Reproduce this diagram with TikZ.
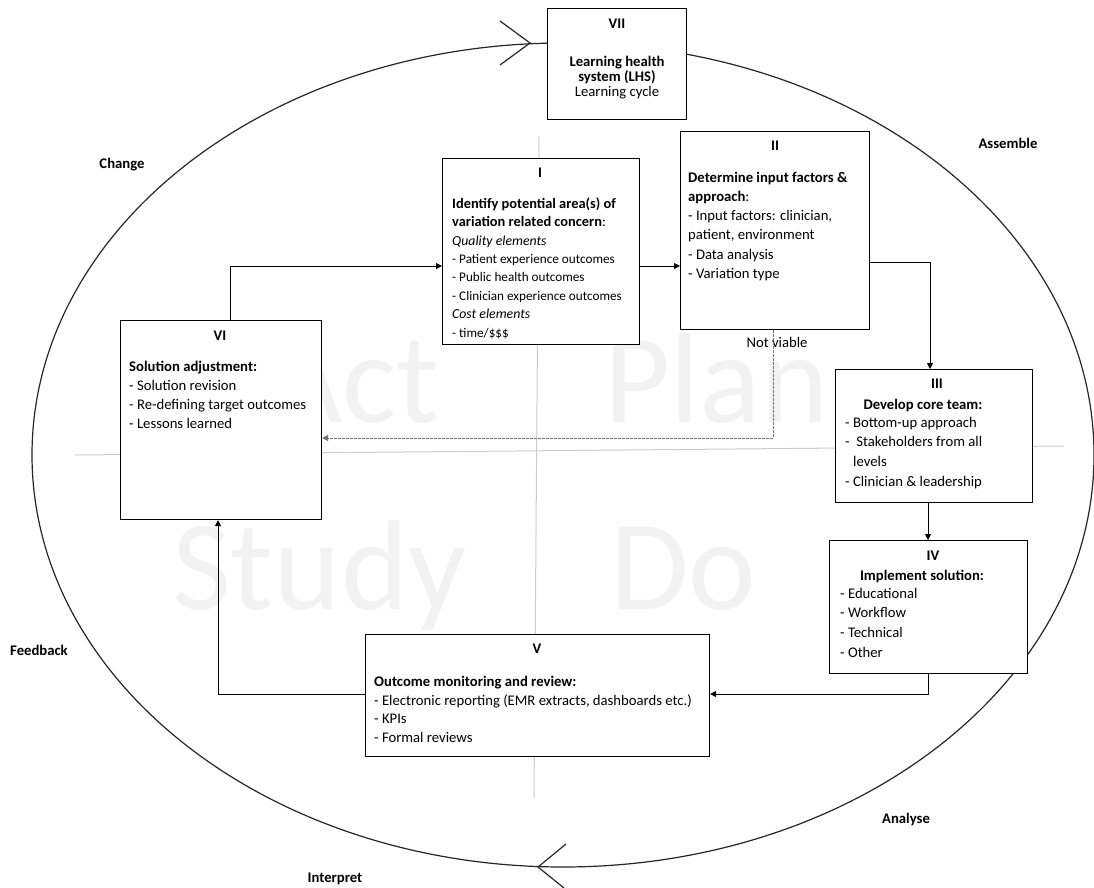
\documentclass[tikz,border=0pt]{standalone}
\usepackage{fontspec}
\setmainfont{Carlito}
\usetikzlibrary{arrows.meta}
\tikzset{
  box/.style={draw=black, line width=1.1pt, fill=white, inner sep=0pt, anchor=north west},
  body/.style={inner sep=0pt, anchor=base west, align=left},
  ttl/.style={inner sep=0pt, anchor=base, font=\fontsize{14.7}{18}\selectfont\bfseries},
  conn/.style={line width=1pt, -{Triangle[length=6pt,width=6pt]}},
  nvconn/.style={draw=black!55, line width=1pt, dash pattern=on 3pt off 1pt, -{Triangle[length=6pt,width=6pt]}},
  lbl/.style={font=\fontsize{14.7}{18}\selectfont\bfseries, inner sep=0pt, anchor=base},
  wm/.style={text=black!5, font=\fontsize{128}{130}\selectfont, inner sep=0pt, anchor=base west},
  grayline/.style={draw=black!20, line width=1pt},
  cyc/.style={draw=black!85, line width=1.2pt},
}
\begin{document}
\begin{tikzpicture}[x=1pt,y=-1pt]
\useasboundingbox (0,0) rectangle (1094,888);
% watermark
\node[wm] (wact) at (268,422) {Act};
\node[wm] (wplan) at (604,422) {Plan};
\node[wm] (wstudy) at (172,609) {Study};
\node[wm] (wdo) at (610,609) {Do};
% cross lines
\coordinate (hl1) at (75,455);
\coordinate (hl2) at (1064,446);
\coordinate (vl1) at (539,136);
\coordinate (vl2) at (534,798);
\draw[grayline] (hl1) -- (hl2);
\draw[grayline] (vl1) -- (vl2);
% cycle ellipse
\coordinate (ec) at (563,455);
\draw[cyc] (ec) ellipse [x radius=531pt, y radius=412pt];
\coordinate (ta) at (530,43);
\coordinate (ta1) at (500,21);
\coordinate (ta2) at (500,65);
\draw[cyc] (ta1) -- (ta) -- (ta2);
\coordinate (ba) at (538,867);
\coordinate (ba1) at (566,844);
\coordinate (ba2) at (564,888);
\draw[cyc] (ba1) -- (ba) -- (ba2);
% boxes
\node[box, minimum width=139pt, minimum height=111pt] (b7) at (547,8) {};
\node[box, minimum width=197pt, minimum height=186pt] (b1) at (442,158) {};
\node[box, minimum width=189pt, minimum height=198pt] (b2) at (680,131) {};
\node[box, minimum width=197pt, minimum height=133pt] (b3) at (835,369) {};
\node[box, minimum width=198pt, minimum height=133pt] (b4) at (829,540) {};
\node[box, minimum width=344pt, minimum height=122pt] (b5) at (365,634) {};
\node[box, minimum width=201pt, minimum height=199pt] (b6) at (120,320) {};
% box VII (multi-line nodes: base = last line's baseline)
\node[ttl] (t7) at (617,29) {VII};
\node[inner sep=0pt, anchor=base, align=center, font=\fontsize{14.7}{15}\selectfont] (x7) at (617,97)
  {\textbf{Learning health}\\\textbf{system (LHS)}\\Learning cycle};
% box I
\node[ttl] (t1) at (540,177) {I};
\node[body, font=\fontsize{13.2}{18.4}\selectfont] (x1) at (452,337)
  {{\fontsize{14.4}{18.4}\selectfont\textbf{Identify potential area(s) of}}\\
   {\fontsize{14.4}{18.4}\selectfont\textbf{variation related concern}:}\\
   {\fontsize{13.8}{18.4}\selectfont\itshape Quality elements}\\
   - Patient experience outcomes\\
   - Public health outcomes\\
   - Clinician experience outcomes\\
   {\fontsize{13.8}{18.4}\selectfont\itshape Cost elements}\\
   - time/\$\$\$};
% box II
\node[ttl] (t2) at (775,150) {II};
\node[body, font=\fontsize{14.7}{19.3}\selectfont] (x2) at (688,278.5)
  {\textbf{Determine input factors \&}\\
   \textbf{approach}:\\
   - Input factors: clinician,\\
   patient, environment\\
   - Data analysis\\
   - Variation type};
\node[inner sep=0pt, anchor=base, font=\fontsize{14.7}{18}\selectfont] (nv) at (777,347) {Not viable};
% box III
\node[ttl] (t3) at (937,388) {III};
\node[ttl] (h3) at (923,409) {Develop core team:};
\node[body, font=\fontsize{14.7}{19.6}\selectfont] (x3) at (845,486)
  {- Bottom-up approach\\
   -\ \ Stakeholders from all\\
   \hspace*{8pt}levels\\
   - Clinician \& leadership};
% box IV
\node[ttl] (t4) at (933,560) {IV};
\node[ttl] (h4) at (922,580) {Implement solution:};
\node[body, font=\fontsize{14.7}{19.6}\selectfont] (x4) at (840,657)
  {- Educational\\
   - Workflow\\
   - Technical\\
   - Other};
% box V
\node[ttl] (t5) at (537,653) {V};
\node[body, font=\fontsize{14.7}{18.4}\selectfont] (x5) at (374,742)
  {\textbf{Outcome monitoring and review:}\\
   - Electronic reporting (EMR extracts, dashboards etc.)\\
   - KPIs\\
   - Formal reviews};
% box VI
\node[ttl] (t6) at (220,340) {VI};
\node[body, font=\fontsize{14.7}{19}\selectfont] (x6) at (129,428)
  {\textbf{Solution adjustment:}\\
   - Solution revision\\
   - Re-defining target outcomes\\
   - Lessons learned};
% connectors
\coordinate (k61) at (230,266);
\draw[conn] (b6.north -| k61) |- (b1.west |- k61);
\coordinate (k12) at (660,266);
\draw[conn] (b1.east |- k12) -- (b2.west |- k12);
\coordinate (k23) at (930,262);
\draw[conn] (b2.east |- k23) -| (b3.north -| k23);
\coordinate (k34) at (928,520);
\draw[conn] (b3.south -| k34) -- (b4.north -| k34);
\coordinate (k45) at (928,694);
\draw[conn] (b4.south -| k45) |- (b5.east |- k45);
\coordinate (k56) at (218,694);
\draw[conn] (b5.west |- k56) -| (b6.south -| k56);
\coordinate (knv) at (773,438);
\draw[nvconn] (b2.south -| knv) |- (b6.east |- knv);
% cycle labels
\node[lbl] (lchange) at (122,168) {Change};
\node[lbl] (lassemble) at (1008,148) {Assemble};
\node[lbl] (lfeedback) at (39,655) {Feedback};
\node[lbl] (lanalyse) at (906,823) {Analyse};
\node[lbl] (linterpret) at (335,882) {Interpret};
\end{tikzpicture}
\end{document}
